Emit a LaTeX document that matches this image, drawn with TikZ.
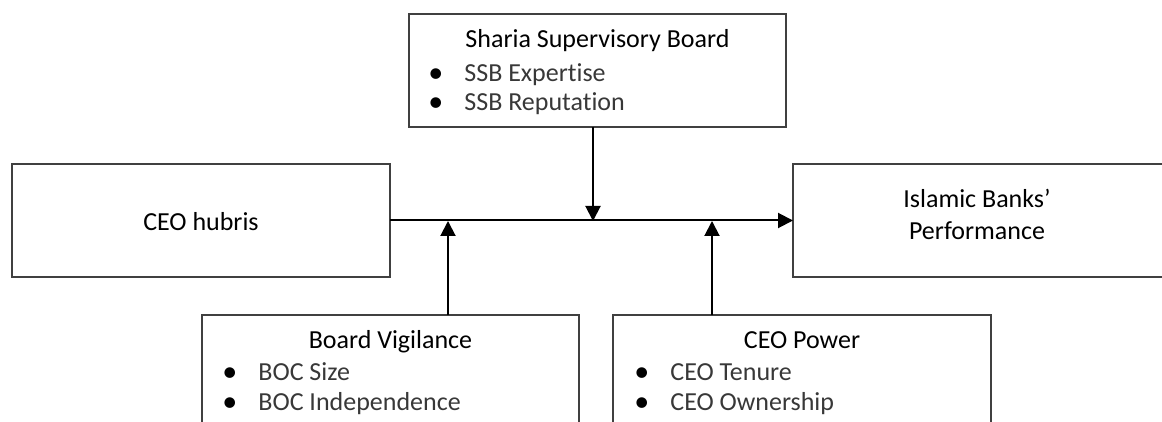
\documentclass[tikz,border=0pt]{standalone}
\usepackage{fontspec}
\setmainfont[Ligatures={TeX,NoCommon}]{Carlito}
\usetikzlibrary{arrows.meta}
\newcommand{\bul}{\makebox[18pt][l]{\fontsize{15}{15}\selectfont\color{black}\raisebox{-0.5pt}{\textbullet}}}
\begin{document}
\begin{tikzpicture}[x=0.5pt,y=-0.5pt,
box/.style={draw=black!75,line width=0.75pt,inner sep=0pt,outer sep=0pt,anchor=north west},
head/.style={font=\fontsize{13}{15}\selectfont,anchor=base,inner sep=0pt},
item/.style={font=\fontsize{13}{15}\selectfont,text=black!78,anchor=base west,inner sep=0pt},
arr/.style={line width=1pt,-{Triangle[length=7.5pt,width=7.5pt]}}]
\useasboundingbox (0,0) rectangle (1162,422);
\clip (0,0) rectangle (1162,422);
% boxes
\node[box,minimum width=188.5pt,minimum height=56.5pt] (ssb) at (409,14) {};
\node[box,minimum width=189pt,minimum height=56.5pt] (hubris) at (12,164) {};
\node[box,minimum width=185.5pt,minimum height=56.5pt] (perf) at (793,164) {};
\node[box,minimum width=188.5pt,minimum height=62.5pt] (bv) at (202,315) {};
\node[box,minimum width=189pt,minimum height=62.5pt] (power) at (613,315) {};
% texts
\node[head] (ssbhead) at (597.5,48) {Sharia Supervisory Board};
\node[item] (ssbA) at (428,82) {\bul SSB Expertise};
\node[item] (ssbB) at (428,111) {\bul SSB Reputation};
\node[head] (hubrishead) at (201,231) {CEO hubris};
\node[head] (perfA) at (977,208) {Islamic Banks’};
\node[head] (perfB) at (977,240) {Performance};
\node[head] (bvhead) at (390.5,349) {Board Vigilance};
\node[item] (bvA) at (222,380) {\bul BOC Size};
\node[item] (bvB) at (222,410) {\bul BOC Independence};
\node[head] (powerhead) at (802,349) {CEO Power};
\node[item] (powerA) at (634,380) {\bul CEO Tenure};
\node[item] (powerB) at (634,410) {\bul CEO Ownership};
% arrows
\coordinate (jssb) at (593,221);
\coordinate (jbv) at (448,221);
\coordinate (jpower) at (712,221);
\draw[arr] (hubris.east) -- (perf.west);
\draw[arr] (jssb |- ssb.south) -- (jssb);
\draw[arr] (jbv |- bv.north) -- (jbv);
\draw[arr] (jpower |- power.north) -- (jpower);
\end{tikzpicture}
\end{document}
